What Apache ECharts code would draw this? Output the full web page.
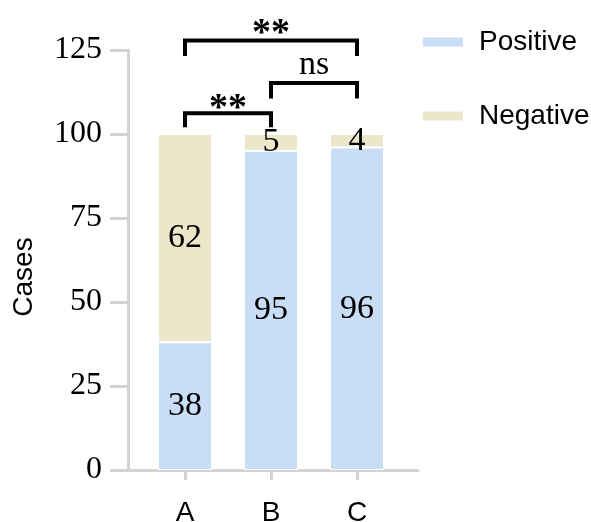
<!DOCTYPE html>
<html>
<head>
<meta charset="utf-8">
<style>
html,body{margin:0;padding:0;background:#fff;}
#chart{width:591px;height:522px;}
</style>
<script src="https://cdn.jsdelivr.net/npm/echarts@6/dist/echarts.min.js"></script>
</head>
<body>
<div id="chart"></div>
<script>
var categories = ['A', 'B', 'C'];
var positive = [38, 95, 96];
var negative = [62, 5, 4];
var yTicks = [0, 25, 50, 75, 100, 125];
// significance brackets: [fromIndex, toIndex, barLevel, legBottom, textLevel]
var brackets = [
  [0, 2, 127.8, 123.2, 129.8],
  [1, 2, 115.2, 110.6, 120.5],
  [0, 1, 106.2, 102.0, 107.4]
];
var bracketLabels = ['**', 'ns', '**'];

var axisGrey = '#d3d3d3';
var chart = echarts.init(document.getElementById('chart'), null, {renderer: 'canvas'});
chart.setOption({
  animation: false,
  backgroundColor: '#ffffff',
  grid: [
    {left: 142, width: 258, top: 50, bottom: 52, outerBoundsMode: 'none', containLabel: false},
    {left: 128, right: 173, top: 50, bottom: 52, outerBoundsMode: 'none', containLabel: false}
  ],
  legend: {
    orient: 'vertical',
    left: 421,
    top: 28,
    padding: 0,
    itemGap: 46,
    itemWidth: 42,
    itemHeight: 11,
    icon: 'rect',
    data: ['Positive', 'Negative'],
    textStyle: {fontFamily: 'Liberation Sans', fontSize: 28, color: '#000', padding: [0, 0, 0, 10]}
  },
  xAxis: [{
    type: 'category',
    gridIndex: 0,
    data: categories,
    axisLine: {show: false},
    axisTick: {show: true, alignWithLabel: true, length: 10, lineStyle: {color: axisGrey, width: 3}},
    axisLabel: {fontFamily: 'Liberation Sans', fontSize: 28, color: '#000', margin: 29},
    splitLine: {show: false}
  }, {
    type: 'value',
    gridIndex: 1,
    min: 0, max: 1,
    axisLine: {show: true, lineStyle: {color: axisGrey, width: 3}},
    axisTick: {show: false},
    axisLabel: {show: false},
    splitLine: {show: false}
  }],
  yAxis: [{
    type: 'value',
    gridIndex: 0,
    min: yTicks[0],
    max: yTicks[yTicks.length - 1],
    interval: yTicks[1] - yTicks[0],
    offset: 14,
    name: 'Cases',
    nameLocation: 'middle',
    nameRotate: 90,
    nameGap: 90,
    nameTextStyle: {fontFamily: 'Liberation Sans', fontSize: 28, color: '#000', padding: [0, 34, 0, 0]},
    axisLine: {show: true, lineStyle: {color: axisGrey, width: 3}},
    axisTick: {show: true, inside: false, length: 18, lineStyle: {color: axisGrey, width: 3}},
    axisLabel: {fontFamily: 'Liberation Serif', fontSize: 32, color: '#000', margin: 26},
    splitLine: {show: false}
  }, {
    type: 'value', gridIndex: 1, show: false, min: 0, max: 1
  }],
  series: [{
    name: 'Positive',
    type: 'bar',
    stack: 'total',
    barWidth: 54,
    data: positive,
    itemStyle: {color: '#c9ddf6', borderColor: '#ffffff', borderWidth: 1},
    label: {show: true, position: 'inside', fontFamily: 'Liberation Serif', fontSize: 34, color: '#000'}
  }, {
    name: 'Negative',
    type: 'bar',
    stack: 'total',
    barWidth: 54,
    data: negative,
    itemStyle: {color: '#ece6ca', borderColor: '#ffffff', borderWidth: 1},
    label: {show: true, position: 'inside', fontFamily: 'Liberation Serif', fontSize: 34, color: '#000'}
  }, {
    type: 'custom',
    xAxisIndex: 0,
    yAxisIndex: 0,
    clip: false,
    silent: true,
    data: brackets,
    renderItem: function (params, api) {
      var x1 = api.value(0), x2 = api.value(1);
      var top = api.value(2), leg = api.value(3), tl = api.value(4);
      var p1 = api.coord([x1, leg]);
      var p2 = api.coord([x1, top]);
      var p3 = api.coord([x2, top]);
      var p4 = api.coord([x2, leg]);
      var pt = api.coord([x1, tl]);
      var txt = bracketLabels[params.dataIndex];
      return {
        type: 'group',
        children: [{
          type: 'polyline',
          shape: {points: [p1, p2, p3, p4]},
          style: {stroke: '#000', lineWidth: 4, fill: null, lineJoin: 'miter'}
        }, {
          type: 'text',
          x: (p2[0] + p3[0]) / 2,
          y: pt[1],
          style: {
            text: txt,
            fill: '#000',
            font: txt === 'ns' ? '34px "Liberation Serif"' : 'bold 38px "Liberation Serif"',
            align: 'center',
            verticalAlign: 'middle'
          }
        }]
      };
    }
  }]
});
</script>
</body>
</html>
